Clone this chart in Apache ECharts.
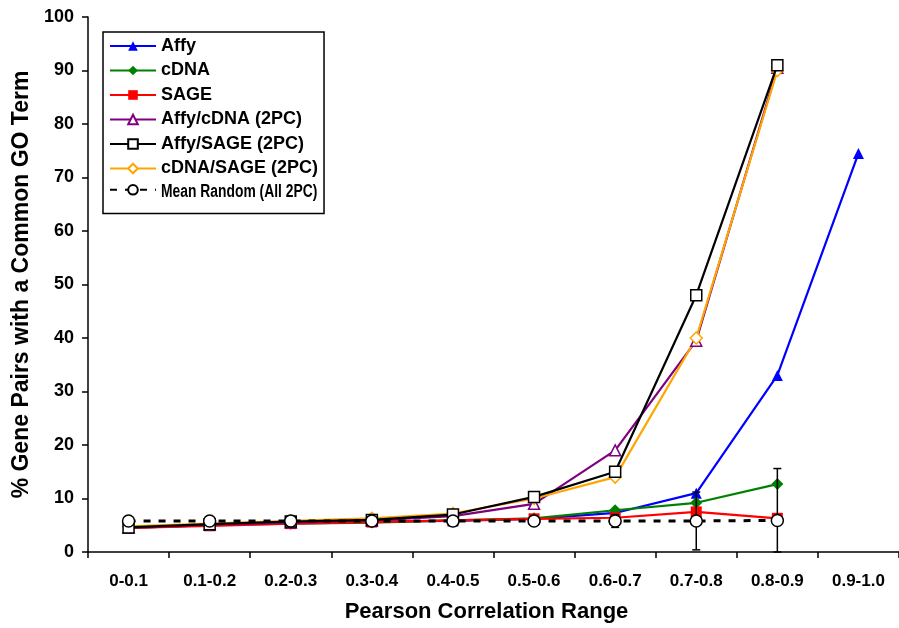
<!DOCTYPE html>
<html>
<head>
<meta charset="utf-8">
<script src="https://cdn.jsdelivr.net/npm/echarts@6/dist/echarts.min.js"></script>
<style>
  html, body { margin: 0; padding: 0; background: #fff; }
  #main { width: 899px; height: 628px; }
</style>
</head>
<body>
<div id="main"></div>
<script>
var categories = ['0-0.1', '0.1-0.2', '0.2-0.3', '0.3-0.4', '0.4-0.5', '0.5-0.6', '0.6-0.7', '0.7-0.8', '0.8-0.9', '0.9-1.0'];

var affy      = [4.5, 5.0, 5.5, 5.7, 5.8, 6.2, 7.3, 11.0, 33.0, 74.5];
var cdna      = [4.5, 5.0, 5.3, 5.5, 5.9, 6.3, 7.8, 9.2, 12.7, null];
var sage      = [4.5, 4.9, 5.3, 5.6, 5.9, 6.2, 6.4, 7.5, 6.3, null];
var affyCdna  = [4.6, 5.1, 5.5, 5.9, 6.7, 9.0, 19.0, 39.5, 90.5, null];
var affySage  = [4.6, 5.2, 5.7, 6.0, 7.0, 10.3, 15.0, 48.0, 91.0, null];
var cdnaSage  = [4.8, 5.3, 5.8, 6.3, 7.2, 10.0, 14.0, 40.0, 90.0, null];
var meanRand  = [5.8, 5.8, 5.8, 5.8, 5.8, 5.8, 5.8, 5.8, 5.9, null];
// error bars on the random mean: [category index, low, high]
var randErr   = [[6, 4.6, 7.0], [7, 0.4, 11.2], [8, 0, 15.6]];

var randName = 'Mean Random (All 2PC)';

var chartDom = document.getElementById('main');
var myChart = echarts.init(chartDom);

var font = 'Liberation Sans, Arial, sans-serif';

function lineSeries(name, data, color, symbol, filled, z) {
    return {
        name: name,
        type: 'line',
        data: data,
        symbol: symbol,
        symbolSize: symbol === 'diamond' ? 12 : 11,
        z: z,
        lineStyle: { color: color, width: 2.2 },
        itemStyle: {
            color: filled ? color : '#fff',
            borderColor: color,
            borderWidth: filled ? 0 : 1.5
        },
        animation: false
    };
}

option = {
    backgroundColor: '#fff',
    grid: { left: 88, right: -10, top: 17, bottom: 75 },
    // the last legend label is squeezed like in the original figure, so it is drawn by hand
    graphic: [{
        type: 'text',
        x: 161,
        y: 192,
        scaleX: 0.77,
        z: 100,
        style: {
            text: randName,
            fontFamily: font,
            fontWeight: 'bold',
            fontSize: 18,
            fill: '#000',
            verticalAlign: 'middle'
        }
    }],
    legend: {
        orient: 'vertical',
        left: 103,
        top: 32,
        padding: [5, 6, 18, 6],
        itemWidth: 46,
        itemHeight: 12,
        itemGap: 6.5,
        borderColor: '#000',
        borderWidth: 1.5,
        textStyle: { fontFamily: font, fontWeight: 'bold', fontSize: 18, lineHeight: 18, color: '#000' },
        formatter: function (name) {
            return name === randName ? '' : name;
        },
        data: ['Affy', 'cDNA', 'SAGE', 'Affy/cDNA (2PC)', 'Affy/SAGE (2PC)', 'cDNA/SAGE (2PC)', randName]
    },
    xAxis: {
        type: 'category',
        data: categories,
        name: 'Pearson Correlation Range',
        nameLocation: 'middle',
        nameGap: 49,
        nameTextStyle: { fontFamily: font, fontWeight: 'bold', fontSize: 22, color: '#000', padding: [0, 14, 0, 0] },
        axisLine: { lineStyle: { color: '#000', width: 1.5 } },
        axisTick: { show: true, length: 6, lineStyle: { color: '#000', width: 1.5 } },
        axisLabel: { fontFamily: font, fontWeight: 'bold', fontSize: 17, color: '#000', margin: 21 }
    },
    yAxis: {
        type: 'value',
        min: 0,
        max: 100,
        interval: 10,
        name: '% Gene Pairs with a Common GO Term',
        nameLocation: 'middle',
        nameGap: 46,
        nameTextStyle: { fontFamily: font, fontWeight: 'bold', fontSize: 23, color: '#000' },
        axisLine: { show: true, lineStyle: { color: '#000', width: 1.5 } },
        axisTick: { show: true, length: 6, lineStyle: { color: '#000', width: 1.5 } },
        splitLine: { show: false },
        axisLabel: { fontFamily: font, fontWeight: 'bold', fontSize: 18, color: '#000', margin: 14 }
    },
    series: [
        lineSeries('Affy', affy, '#0000ff', 'triangle', true, 3),
        lineSeries('cDNA', cdna, '#008000', 'diamond', true, 3),
        lineSeries('SAGE', sage, '#ff0000', 'rect', true, 3),
        lineSeries('Affy/cDNA (2PC)', affyCdna, '#800080', 'triangle', false, 4),
        lineSeries('cDNA/SAGE (2PC)', cdnaSage, '#ffa500', 'diamond', false, 4),
        lineSeries('Affy/SAGE (2PC)', affySage, '#000000', 'rect', false, 5),
        {
            name: randName,
            type: 'line',
            data: meanRand,
            symbol: 'circle',
            symbolSize: 12,
            z: 7,
            lineStyle: { color: '#000', width: 3, type: [7, 8] },
            itemStyle: { color: '#fff', borderColor: '#000', borderWidth: 1.5 },
            animation: false
        },
        {
            type: 'custom',
            z: 6,
            data: randErr,
            renderItem: function (params, api) {
                var x = api.value(0);
                var lo = api.coord([x, api.value(1)]);
                var hi = api.coord([x, api.value(2)]);
                var cap = 4;
                var st = { stroke: '#000', lineWidth: 1.5 };
                return {
                    type: 'group',
                    children: [
                        { type: 'line', shape: { x1: lo[0], y1: lo[1], x2: hi[0], y2: hi[1] }, style: st },
                        { type: 'line', shape: { x1: hi[0] - cap, y1: hi[1], x2: hi[0] + cap, y2: hi[1] }, style: st },
                        { type: 'line', shape: { x1: lo[0] - cap, y1: lo[1], x2: lo[0] + cap, y2: lo[1] }, style: st }
                    ]
                };
            },
            animation: false
        }
    ]
};

myChart.setOption(option);
</script>
</body>
</html>
